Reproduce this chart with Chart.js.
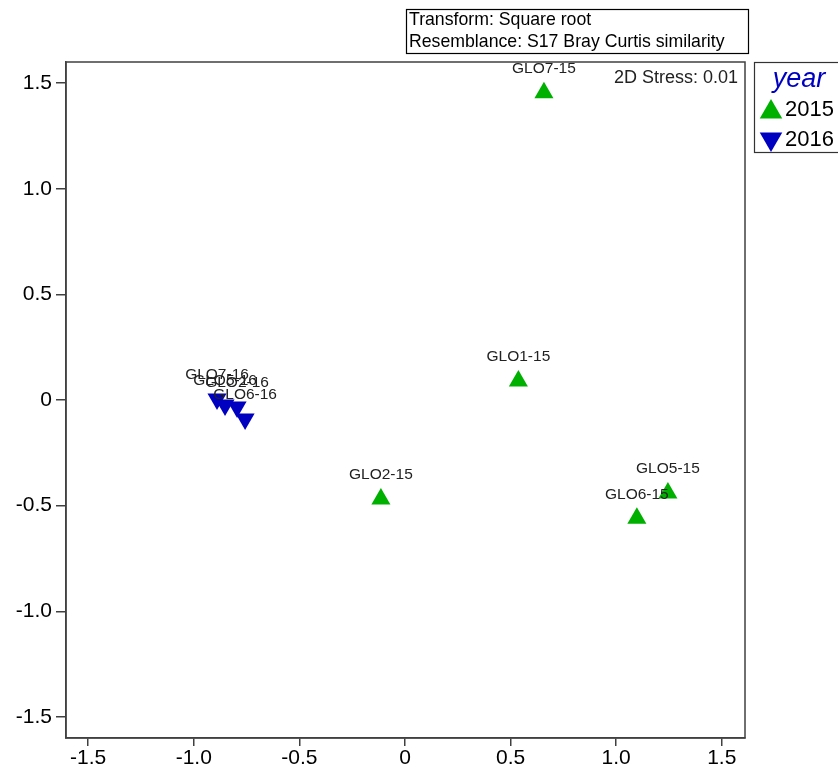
<!DOCTYPE html>
<html>
<head>
<meta charset="utf-8">
<script src="https://cdn.jsdelivr.net/npm/chart.js@4"></script>
<style>
  html, body { margin: 0; padding: 0; background: #fff; }
  #wrap { width: 838px; height: 772px; position: relative; }
</style>
</head>
<body>
<div id="wrap"><canvas id="mds"></canvas></div>
<script>
// nMDS ordination, samples by year
const names15 = ["GLO1-15", "GLO2-15", "GLO5-15", "GLO6-15", "GLO7-15"];
const x15 = [0.537, -0.114, 1.245, 1.098, 0.658];
const y15 = [0.09, -0.469, -0.44, -0.56, 1.455];

const names16 = ["GLO2-16", "GLO5-16", "GLO6-16", "GLO7-16"];
const x16 = [-0.795, -0.852, -0.757, -0.89];
const y16 = [-0.033, -0.024, -0.09, 0.005];

const tickVals = [-1.5, -1.0, -0.5, 0, 0.5, 1.0, 1.5];
const years = ["2015", "2016"];
const infoLines = ["Transform: Square root", "Resemblance: S17 Bray Curtis similarity"];
const stressText = "2D Stress: 0.01";

const GREEN = "#00b000";
const BLUE = "#0000c0";
const FONT = "'Liberation Sans', Arial, sans-serif";

function toPoints(xs, ys) {
  return xs.map((x, i) => ({ x, y: ys[i] }));
}

function fmt(v) {
  return v === 0 ? "0" : v.toFixed(1);
}

function triangle(ctx, cx, cy, r, down) {
  const s = down ? -1 : 1;
  ctx.beginPath();
  ctx.moveTo(cx, cy - s * r);
  ctx.lineTo(cx + r * 0.866, cy + s * r * 0.5);
  ctx.lineTo(cx - r * 0.866, cy + s * r * 0.5);
  ctx.closePath();
  ctx.fill();
}

const extras = {
  id: "extras",
  afterDatasetsDraw(chart) {
    const ctx = chart.ctx;
    const area = chart.chartArea;
    ctx.save();

    // frame around plot
    ctx.strokeStyle = "#404040";
    ctx.lineWidth = 1.5;
    ctx.strokeRect(area.left, area.top, area.right - area.left, area.bottom - area.top);

    // sample labels
    ctx.fillStyle = "#222";
    ctx.font = "15.5px " + FONT;
    ctx.textAlign = "center";
    ctx.textBaseline = "middle";
    const labelSets = [names15, names16];
    chart.data.datasets.forEach((ds, di) => {
      chart.getDatasetMeta(di).data.forEach((pt, i) => {
        ctx.fillText(labelSets[di][i], pt.x, pt.y - 24);
      });
    });

    // stress
    ctx.font = "18px " + FONT;
    ctx.textAlign = "right";
    ctx.fillText(stressText, area.right - 7, area.top + 16);

    // info box
    ctx.strokeStyle = "#000";
    ctx.lineWidth = 1.2;
    ctx.strokeRect(406.5, 9.5, 342, 44);
    ctx.fillStyle = "#000";
    ctx.font = "17.7px " + FONT;
    ctx.textAlign = "left";
    ctx.fillText(infoLines[0], 409, 20);
    ctx.fillText(infoLines[1], 409, 42);

    // legend
    ctx.strokeStyle = "#333";
    ctx.lineWidth = 1.2;
    ctx.strokeRect(754.5, 62.5, 100, 90);
    ctx.fillStyle = BLUE;
    ctx.font = "italic 27px " + FONT;
    ctx.textAlign = "center";
    ctx.fillText("year", 799, 79);
    ctx.font = "22px " + FONT;
    ctx.textAlign = "left";
    const cols = [GREEN, BLUE];
    years.forEach((yr, i) => {
      const yy = 110 + i * 30;
      ctx.fillStyle = cols[i];
      triangle(ctx, 771, i ? yy - 1 : yy + 2, 13, i === 1);
      ctx.fillStyle = "#000";
      ctx.fillText(yr, 785, yy);
    });

    ctx.restore();
  }
};

function axisTicks(scale) {
  scale.ticks = tickVals.map((v) => ({ value: v }));
}

new Chart(document.getElementById("mds"), {
  type: "scatter",
  data: {
    datasets: [
      {
        label: years[0],
        data: toPoints(x15, y15),
        pointStyle: "triangle",
        pointRadius: 11,
        pointHoverRadius: 11,
        backgroundColor: GREEN,
        borderColor: GREEN,
        borderWidth: 0,
      },
      {
        label: years[1],
        data: toPoints(x16, y16),
        pointStyle: "triangle",
        rotation: 180,
        pointRadius: 11,
        pointHoverRadius: 11,
        backgroundColor: BLUE,
        borderColor: BLUE,
        borderWidth: 0,
      },
    ],
  },
  options: {
    responsive: true,
    maintainAspectRatio: false,
    animation: false,
    layout: { padding: { left: 0, top: 62, right: 93, bottom: 0 } },
    plugins: {
      legend: { display: false },
      tooltip: { enabled: false },
    },
    scales: {
      x: {
        type: "linear",
        min: -1.605,
        max: 1.61,
        afterBuildTicks: axisTicks,
        afterFit: (s) => { s.height = 34; },
        grid: { drawOnChartArea: false, drawTicks: true, tickLength: 8, color: "#404040", lineWidth: 1.5 },
        border: { display: true, color: "#404040", width: 1.5 },
        ticks: { color: "#000", font: { size: 21, family: FONT }, padding: 0, callback: fmt, maxRotation: 0 },
      },
      y: {
        type: "linear",
        min: -1.6,
        max: 1.6,
        afterBuildTicks: axisTicks,
        afterFit: (s) => { s.width = 66; },
        grid: { drawOnChartArea: false, drawTicks: true, tickLength: 10, color: "#404040", lineWidth: 1.5 },
        border: { display: true, color: "#404040", width: 1.5 },
        ticks: { color: "#000", font: { size: 21, family: FONT }, padding: 4, callback: fmt },
      },
    },
  },
  plugins: [extras],
});
</script>
</body>
</html>
